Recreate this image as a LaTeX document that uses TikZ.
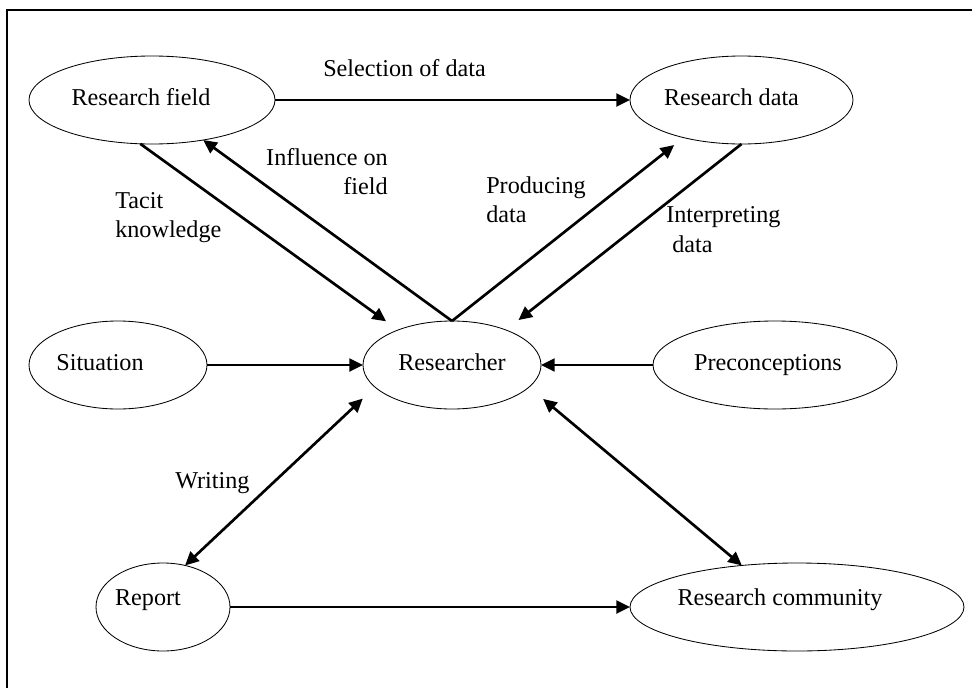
\documentclass[tikz,border=0pt]{standalone}
\usepackage{fontspec}
\setmainfont{Liberation Serif}
\usetikzlibrary{shapes.geometric, positioning, arrows.meta}

\begin{document}
\begin{tikzpicture}[
    font=\fontsize{17.2pt}{21pt}\selectfont,
    blob/.style={draw, ellipse, line width=0.6pt, outer sep=0pt, inner sep=1pt,
      minimum height=2.2cm, text height=0.45cm, text depth=0.19cm},
    low/.style={text depth=0.55cm},
    padl/.style={execute at begin node={\hspace*{-#1}}},
    arr/.style={line width=1.9pt, -{Triangle[length=0.34cm,width=0.32cm]}},
    dbl/.style={line width=1.9pt, {Triangle[length=0.34cm,width=0.32cm]}-{Triangle[length=0.34cm,width=0.32cm]}},
    lbl/.style={inner sep=0pt}
  ]
  \useasboundingbox (0,0) rectangle (24.3,-17.2);
  \draw[line width=1pt] (0.175,-17.2) |- (24.3,-0.25);

  % ellipses
  \node[blob, padl=0.55cm, minimum width=6.15cm] (F) at (3.8,-2.5) {Research field};
  \node[blob, padl=0.5cm, minimum width=5.575cm, right=8.875cm of F] (D) {Research data};
  \node[blob, minimum width=4.45cm] (R) at (11.3,-9.125) {Researcher};
  \node[blob, padl=0.9cm, minimum width=4.45cm, left=3.9cm of R] (S) {Situation};
  \node[blob, padl=0.35cm, minimum width=6.1cm, right=2.8cm of R] (P) {Preconceptions};
  \node[blob, low, padl=0.75cm, minimum width=3.35cm] (Rep) at (4.075,-15.175) {Report};
  \node[blob, low, padl=0.85cm, minimum width=8.35cm, right=10cm of Rep] (C) {Research community};

  % labels
  \node[lbl, anchor=base west] (Lsel) at (8.075,-1.9) {Selection of data};
  \node[lbl, anchor=north east, align=right] (Linf) at (9.7,-3.7) {Influence on\\field};
  \node[lbl, anchor=north west, align=left] (Ltac) at (2.875,-4.8) {Tacit\\knowledge};
  \node[lbl, anchor=north west, align=left] (Lpro) at (12.15,-4.41) {Producing\\data};
  \node[lbl, anchor=north west, align=left] (Lint) at (16.65,-5.16) {Interpreting\\\hspace*{0.25em}data};
  \node[lbl, anchor=base west] (Lwri) at (4.375,-12.2) {Writing};

  % connectors
  \draw[arr] (F.east) -- (D.west);
  \draw[arr, shorten >=0.37cm] (F.255) -- (R.147);
  \draw[arr] (R.north) -- (F.322);
  \draw[arr, shorten >=0.3cm] (R.north) -- (D.213);
  \draw[arr, shorten >=0.4cm] (D.south) -- (R.33);
  \draw[arr] (S.east) -- (R.west);
  \draw[arr] (P.west) -- (R.east);
  \draw[dbl, shorten <=0.42cm] (R.196) -- (Rep.62);
  \draw[dbl, shorten <=0.46cm] (R.344) -- (C.143);
  \draw[arr] (Rep.east) -- (C.west);
\end{tikzpicture}
\end{document}
